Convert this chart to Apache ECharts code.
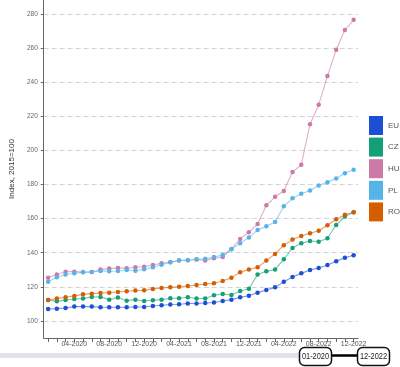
<!DOCTYPE html>
<html>
<head>
<meta charset="utf-8">
<style>html,body{margin:0;padding:0;background:#fff}#c{width:400px;height:367px}</style>
<script src="https://cdn.jsdelivr.net/npm/echarts@6/dist/echarts.min.js"></script>
</head>
<body>
<div id="c"></div>
<script>
const months = ['01-2020','02-2020','03-2020','04-2020','05-2020','06-2020','07-2020','08-2020','09-2020','10-2020','11-2020','12-2020',
'01-2021','02-2021','03-2021','04-2021','05-2021','06-2021','07-2021','08-2021','09-2021','10-2021','11-2021','12-2021',
'01-2022','02-2022','03-2022','04-2022','05-2022','06-2022','07-2022','08-2022','09-2022','10-2022','11-2022','12-2022'];
const seriesNames = ['EU','CZ','HU','PL','RO'];
const EU = [107.0,107.2,107.6,108.4,108.4,108.4,108.0,108.0,108.0,108.0,108.2,108.2,108.8,109.2,109.6,109.8,110.2,110.3,110.5,
110.8,111.7,112.5,113.9,114.8,116.6,118.2,119.7,123.0,125.8,127.9,129.9,131.1,132.8,135.0,137.1,138.5];
const CZ = [112.3,111.5,112.3,112.9,113.1,114.1,114.0,112.5,113.7,111.9,112.5,111.7,112.1,112.5,113.3,113.3,113.9,113.2,113.2,
115.1,115.8,115.2,117.6,118.9,127.2,129.1,130.1,136.2,142.8,145.5,146.9,146.5,148.5,156.3,161.2,163.7];
const HU = [125.4,127.2,128.9,128.9,128.7,128.7,130.1,130.7,131.1,130.9,131.5,131.8,132.8,133.8,134.4,135.4,135.6,136.0,135.5,
136.8,137.5,142.2,148.1,152.0,156.9,167.8,172.8,176.2,187.3,191.6,215.3,226.8,243.6,259.0,270.6,276.6];
const PL = [123.0,125.6,127.2,128.0,128.5,128.7,129.3,129.1,129.3,129.9,129.5,130.3,131.5,133.0,134.4,135.6,135.6,136.2,136.4,
137.5,138.7,142.0,145.5,148.9,153.4,155.5,158.0,167.2,171.9,174.6,176.5,179.4,181.4,183.5,186.6,188.7];
const RO = [112.3,113.1,113.9,114.7,115.6,116.0,116.4,116.6,117.0,117.4,117.8,118.0,118.8,119.3,119.7,120.1,120.5,121.1,121.6,
122.1,123.4,125.4,128.5,130.1,131.5,135.4,139.3,144.4,147.7,149.8,151.4,152.9,156.1,159.6,162.3,163.7];
const rangeStart = '01-2020';
const rangeEnd = '12-2022';

const values = [EU, CZ, HU, PL, RO];
const colors = ['#1a4fd6','#14a077','#cc79a7','#56b4e9','#d55e00'];

const chart = echarts.init(document.getElementById('c'), null, {renderer:'canvas'});
chart.setOption({
  animation: false,
  backgroundColor: '#fff',
  color: colors,
  grid: {left: 32, right: 42, top: 0, bottom: 29, containLabel: false},
  legend: {
    orient: 'vertical', left: 369, top: 116, padding: 0,
    itemWidth: 14, itemHeight: 19, itemGap: 2.6,
    icon: 'rect',
    textStyle: {fontSize: 8, color: '#555', fontFamily: 'Liberation Sans'},
    data: seriesNames
  },
  xAxis: {
    type: 'category', data: months, boundaryGap: true,
    axisLine: {lineStyle: {color: '#666', width: 1}},
    axisTick: {show: true, alignWithLabel: true, interval: 0, length: 4, lineStyle: {color: '#666'}},
    axisLabel: {interval: function(i){return i % 4 === 3;}, fontSize: 7, color: '#555', margin: 3, fontFamily: 'Liberation Sans'},
    splitLine: {show: false}
  },
  yAxis: {
    type: 'value', min: 90, max: 288.2, splitNumber: 10,
    name: 'Index, 2015=100', nameLocation: 'middle', nameGap: 26,
    nameTextStyle: {fontSize: 8, color: '#333', fontFamily: 'Liberation Sans'},
    axisLine: {show: true, lineStyle: {color: '#666', width: 1}},
    axisTick: {show: true, length: 3, lineStyle: {color: '#666'}},
    axisLabel: {fontSize: 6.5, color: '#666', margin: 6, showMinLabel: false, showMaxLabel: false, fontFamily: 'Liberation Sans'},
    splitLine: {show: true, showMinLine: false, showMaxLine: false, lineStyle: {color: '#d4d4d4', type: [5,3], width: 1}}
  },
  series: seriesNames.map((n, k) => ({
    name: n, type: 'line', data: values[k],
    symbol: 'circle', symbolSize: 4.5, showSymbol: true,
    lineStyle: {width: 1.1, opacity: 0.6},
    itemStyle: {color: colors[k]},
    z: 2
  })),
  graphic: [
    {type: 'rect', shape: {x: 0, y: 353, width: 300, height: 5}, style: {fill: '#e3e3ee'}},
    {type: 'line', shape: {x1: 331, y1: 355.5, x2: 358, y2: 355.5}, style: {stroke: '#000', lineWidth: 2.5}},
    {type: 'rect', shape: {x: 299.5, y: 347.5, width: 32, height: 18, r: 5}, style: {fill: '#fff', stroke: '#111', lineWidth: 1.5}},
    {type: 'text', x: 315.5, y: 356.5, scaleX: 0.78, style: {text: rangeStart, fontSize: 9.5, fill: '#222', align: 'center', verticalAlign: 'middle', fontFamily: 'Liberation Sans'}},
    {type: 'rect', shape: {x: 357.5, y: 347.5, width: 32, height: 18, r: 5}, style: {fill: '#fff', stroke: '#111', lineWidth: 1.5}},
    {type: 'text', x: 373.5, y: 356.5, scaleX: 0.78, style: {text: rangeEnd, fontSize: 9.5, fill: '#222', align: 'center', verticalAlign: 'middle', fontFamily: 'Liberation Sans'}}
  ]
});
</script>
</body>
</html>
